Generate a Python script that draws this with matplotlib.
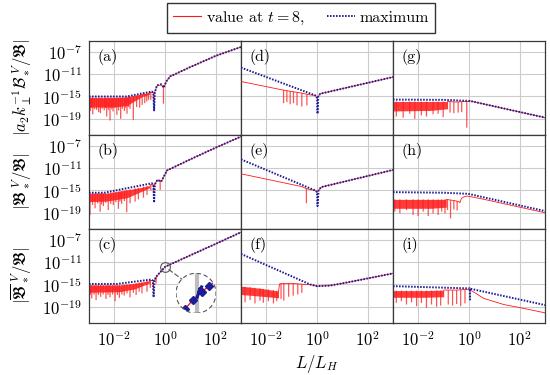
import numpy as np
import matplotlib
matplotlib.use('Agg')
import matplotlib.pyplot as plt
from matplotlib.patches import Circle, ConnectionPatch
from matplotlib.lines import Line2D

plt.rcParams['font.family'] = ['cmr10', 'DejaVu Serif']
plt.rcParams['mathtext.fontset'] = 'cm'
plt.rcParams['axes.formatter.use_mathtext'] = True

RED = '#ff1a1a'
BLUE = '#1c1c96'
DOTS = (0, (0.8, 0.75))

# ---------------- data (log10 of L/L_H and of the plotted quantity) ----------------
# (a)
a_blue_x = [-3, -1.5, -0.52, -0.46, -0.43, -0.40, -0.32, -0.15, -0.05, 0.05, 0.2, 1.0, 2.0, 3.0]
a_blue_y = [-15.0, -15.0, -14.1, -14.4, -17.5, -14.3, -13.0, -12.8, -13.4, -12.3, -11.4, -9.7, -7.7, -6.1]
a_red_x = [-0.62, -0.5, -0.42, -0.32, -0.15, -0.07, -0.05, 0.05, 0.2, 1.0, 2.0, 3.0]
a_red_y = [-14.3, -14.2, -14.4, -13.1, -12.9, -13.3, -13.4, -12.3, -11.4, -9.7, -7.7, -6.1]
a_band_x = [-3, -2.0, -1.5, -1.2, -0.9, -0.6]
a_band_top = [-15.2, -15.2, -15.1, -14.8, -14.5, -14.3]
a_band_bot = [-16.9, -16.9, -16.6, -15.8, -15.0, -14.6]
a_spk_x = [-2.95, -2.9, -2.85, -2.78, -2.7, -2.62, -2.55, -2.48, -2.4, -2.35, -2.3, -2.23, -2.17, -2.1,
           -2.05, -1.97, -1.9, -1.83, -1.75, -1.68, -1.6, -1.55, -1.5, -1.44, -1.38, -1.25, -1.12, -1.0,
           -0.9, -0.8, -0.72, -0.65, -0.56, -0.45, -0.06]
a_spk_top = [-15.2] * 22 + [-15.1, -15.05, -15.0, -14.9, -14.8, -14.7, -14.5, -14.5, -14.4, -14.3,
                            -14.25, -14.35, -13.35]
a_spk_low = [-17.6, -17.1, -18.2, -17.3, -17.4, -17.8, -18.0, -17.2, -17.5, -17.1,
             -18.6, -17.4, -19.3, -17.3, -17.7, -17.0, -18.3, -17.5, -19.0, -17.2,
             -17.6, -17.0, -18.1, -16.9, -17.2, -19.2, -16.9, -17.0, -16.5, -16.2,
             -15.9, -15.6, -15.6, -16.0, -16.3]

# (b)
b_blue_x = [-3, -2.4, -0.52, -0.46, -0.43, -0.40, -0.3, -0.15, 0.08, 1.0, 2.0, 3.0]
b_blue_y = [-15.4, -15.4, -13.7, -14.0, -17.2, -13.9, -13.1, -13.4, -11.4, -9.4, -7.3, -5.3]
b_red_x = [-0.6, -0.5, -0.42, -0.3, -0.2, -0.15, 0.08, 1.0, 2.0, 3.0]
b_red_y = [-14.0, -13.95, -14.0, -13.1, -13.2, -13.4, -11.4, -9.4, -7.3, -5.3]
b_band_x = [-3, -2.3, -1.5, -1.0, -0.6]
b_band_top = [-15.5, -15.5, -14.9, -14.5, -14.1]
b_band_bot = [-17.0, -16.9, -16.3, -15.3, -14.5]
b_spk_x = [-2.96, -2.86, -2.76, -2.66, -2.56, -2.5, -2.43, -2.34, -2.24, -2.14, -2.04, -1.94, -1.84,
           -1.78, -1.71, -1.6, -1.51, -1.38, -1.18, -1.05, -0.85, -0.71, -0.56, -0.45, -0.19]
b_spk_top = [-15.5] * 8 + [-15.4, -15.35, -15.3, -15.25, -15.2, -15.15, -15.1, -15.0, -14.9, -14.8,
                           -14.6, -14.5, -14.3, -14.2, -13.95, -14.0, -13.2]
b_spk_low = [-19.4, -17.6, -18.2, -17.3, -18.8, -17.5, -17.8, -17.2, -18.5, -17.4,
             -17.6, -17.1, -18.3, -17.0, -17.4, -16.9, -18.9, -17.3, -17.0, -16.6,
             -16.3, -15.8, -15.0, -15.5, -14.9]

# (c)
c_blue_x = [-3, -1.9, -0.54, -0.48, -0.45, -0.41, -0.35, 0.01, 1.0, 2.0, 3.0]
c_blue_y = [-14.9, -14.9, -14.1, -14.3, -17.3, -14.2, -13.6, -11.8, -9.75, -7.7, -5.6]
c_red_x = [-0.62, -0.5, -0.42, -0.36, -0.34, 0.01, 1.0, 2.0, 3.0]
c_red_y = [-14.3, -14.3, -14.3, -13.7, -13.6, -11.8, -9.75, -7.7, -5.6]
c_band_x = [-3, -1.8, -1.2, -0.6]
c_band_top = [-15.1, -15.1, -14.8, -14.3]
c_band_bot = [-16.4, -16.3, -15.8, -14.7]
c_spk_x = [-2.95, -2.89, -2.8, -2.72, -2.63, -2.54, -2.44, -2.33, -2.25, -2.17, -2.07, -1.97, -1.88,
           -1.80, -1.7, -1.61, -1.5, -1.38, -1.25, -1.14, -1.02, -0.91, -0.71, -0.58, -0.46, -0.35]
c_spk_top = [-15.1] * 14 + [-15.05, -15.0, -14.95, -14.9, -14.85, -14.75, -14.65, -14.6, -14.4, -14.3,
                            -14.3, -13.65]
c_spk_low = [-16.9, -17.5, -16.8, -17.8, -16.9, -17.2, -16.8, -17.6, -16.9, -17.3,
             -16.8, -18.0, -16.9, -17.4, -16.8, -17.0, -16.6, -17.3, -16.5, -16.9,
             -16.3, -16.6, -16.3, -15.6, -15.8, -14.8]

# (d)
d_blue_x = [-3, -0.07, -0.02, 0.0, 0.02, 0.05, 0.13, 3.0]
d_blue_y = [-9.8, -14.8, -15.0, -15.3, -18.1, -15.0, -14.5, -11.5]
d_red_x = [-3, -1.39, -1.0, -0.6, -0.3, -0.07, 0.0, 0.13, 3.0]
d_red_y = [-12.3, -13.8, -14.1, -14.4, -14.7, -14.8, -15.3, -14.5, -11.5]
d_spk_x = [-1.32, -1.19, -1.06, -0.93, -0.79, -0.6, -0.4]
d_spk_top = [-13.85, -13.95, -14.05, -14.15, -14.25, -14.4, -14.6]
d_spk_low = [-16.2, -16.0, -16.4, -16.2, -16.6, -16.8, -16.6]

# (e)
e_blue_x = [-3, -0.07, 0.0, 0.02, 0.06, 0.16, 3.0]
e_blue_y = [-9.4, -15.0, -15.3, -17.8, -15.0, -14.4, -11.3]
e_red_x = [-3, -0.6, -0.45, -0.39, -0.3, -0.07, 0.0, 0.06, 0.16, 3.0]
e_red_y = [-12.0, -14.3, -14.6, -14.7, -14.8, -15.0, -15.3, -15.0, -14.4, -11.3]
e_spk_x = [-0.42]
e_spk_top = [-14.65]
e_spk_low = [-17.3]

# (f)
f_blue_x = [-3, -0.27, 0.0, 0.5, 1.0, 1.84, 3.0]
f_blue_y = [-9.5, -15.0, -15.3, -15.2, -14.8, -14.05, -13.0]
f_red_x = [-1.52, -1.48, -1.3, -1.0, -0.7, -0.5, -0.27, 0.0, 0.5, 1.0, 1.84, 3.0]
f_red_y = [-16.3, -14.9, -14.8, -14.8, -14.9, -15.0, -15.0, -15.3, -15.2, -14.8, -14.05, -13.0]
f_band_x = [-3, -2.2, -1.52]
f_band_top = [-15.3, -15.7, -16.2]
f_band_bot = [-16.8, -17.1, -17.4]
f_spk_x = [-2.84, -2.64, -2.45, -2.25, -2.12, -1.92, -1.72, -1.59, -1.42, -1.31, -1.12, -0.94, -0.76, -0.6]
f_spk_top = [-15.4, -15.5, -15.6, -15.7, -15.8, -15.9, -16.0, -16.1, -14.85, -14.8, -14.8, -14.85, -14.9, -14.95]
f_spk_low = [-18.2, -17.8, -18.4, -17.9, -18.3, -18.0, -18.4, -18.0, -17.6, -17.9, -17.2, -17.0, -16.8, -16.5]

# (g)
g_blue_x = [-3, -1.0, 0.04, 3.0]
g_blue_y = [-15.56, -15.6, -15.8, -18.8]
g_red_x = [-0.85, -0.5, -0.2, 0.0, 0.04, 3.0]
g_red_y = [-15.9, -16.0, -15.9, -15.9, -15.8, -18.8]
g_band_x = [-3, -1.5, -0.85]
g_band_top = [-15.9, -15.9, -15.9]
g_band_bot = [-17.6, -17.5, -17.2]
g_spk_x = [-2.87, -2.6, -2.34, -2.14, -1.88, -1.68, -1.42, -1.22, -1.02, -0.75, -0.6, -0.43, -0.29, -0.09]
g_spk_top = [-15.9] * 9 + [-15.95, -16.0, -16.0, -15.95, -15.9]
g_spk_low = [-18.6, -18.8, -18.1, -19.0, -18.4, -18.6, -18.2, -18.1, -18.7, -17.9, -18.0, -17.9, -17.8, -20.6]

# (h)
h_blue_x = [-3, -1.0, -0.03, 3.0]
h_blue_y = [-15.3, -15.4, -15.6, -18.7]
h_red_x = [-0.9, -0.6, -0.4, -0.36, -0.3, -0.18, -0.07, 0.5, 1.5, 3.0]
h_red_y = [-16.6, -16.8, -17.0, -17.2, -16.4, -16.1, -16.0, -16.5, -17.5, -19.0]
h_band_x = [-3, -1.5, -0.9]
h_band_top = [-16.6, -16.6, -16.6]
h_band_bot = [-18.2, -18.2, -18.0]
h_spk_x = [-2.93, -2.73, -2.47, -2.21, -2.01, -1.81, -1.61, -1.42, -1.22, -1.08, -0.95, -0.85, -0.73, -0.6, -0.47]
h_spk_top = [-16.6] * 11 + [-16.65, -16.75, -16.8, -16.9]
h_spk_low = [-18.8, -19.1, -18.5, -19.4, -19.6, -18.8, -19.6, -19.1, -19.4, -18.8, -19.1, -18.5, -20.0, -18.4, -18.6]

# (i)
i_blue_x = [-3, 0.0, 0.03, 0.035, 0.04, 3.0]
i_blue_y = [-15.3, -15.7, -15.7, -17.7, -15.75, -18.7]
i_red_x = [-1.0, -0.5, -0.08, -0.03, 0.2, 0.58, 1.37, 2.16, 3.0]
i_red_y = [-16.0, -16.0, -15.9, -15.85, -16.4, -17.5, -18.6, -19.3, -20.1]
i_band_x = [-3, -1.8, -1.0]
i_band_top = [-16.1, -16.1, -16.0]
i_band_bot = [-17.3, -17.3, -17.2]
i_spk_x = [-2.87, -2.67, -2.47, -2.27, -2.07, -1.88, -1.68, -1.48, -1.28, -1.12, -0.82, -0.65, -0.49, -0.33, -0.16]
i_spk_top = [-16.1] * 10 + [-16.0, -16.0, -16.0, -15.95, -15.9]
i_spk_low = [-18.3, -18.0, -18.6, -18.2, -18.9, -18.3, -19.2, -18.6, -19.0, -18.8, -18.6, -18.8, -18.5, -18.9, -18.4]

# zoom inset of (c), in inset-axes units
ins_red_x = [0.05, 0.22, 0.42, 0.64, 0.83, 1.0]
ins_red_y = [-0.05, 0.1, 0.33, 0.54, 0.68, 0.82]
ins_dia_x = [0.225, 0.417, 0.642, 0.833]
ins_dia_y = [0.10, 0.333, 0.54, 0.683]
ins_zig_x = [0.53, 0.60, 0.57, 0.64]
ins_zig_y = [0.40, 0.62, 0.50, 0.66]

letters = ['(a)', '(b)', '(c)', '(d)', '(e)', '(f)', '(g)', '(h)', '(i)']
ylabels = [r'$|a_2 k_\perp^{-1}\mathcal{B}_*^{\ V}/\mathfrak{B}|$',
           r'$|\mathfrak{B}_*^{\ V}/\mathfrak{B}|$',
           r'$|\overline{\mathfrak{B}}_*^{\ V}/\mathfrak{B}|$']
xticks = [1e-2, 1e0, 1e2]
yticks = [1e-19, 1e-15, 1e-11, 1e-7]

panels = [
    (a_blue_x, a_blue_y, a_red_x, a_red_y, (a_band_x, a_band_top, a_band_bot), (a_spk_x, a_spk_top, a_spk_low)),
    (b_blue_x, b_blue_y, b_red_x, b_red_y, (b_band_x, b_band_top, b_band_bot), (b_spk_x, b_spk_top, b_spk_low)),
    (c_blue_x, c_blue_y, c_red_x, c_red_y, (c_band_x, c_band_top, c_band_bot), (c_spk_x, c_spk_top, c_spk_low)),
    (d_blue_x, d_blue_y, d_red_x, d_red_y, None, (d_spk_x, d_spk_top, d_spk_low)),
    (e_blue_x, e_blue_y, e_red_x, e_red_y, None, (e_spk_x, e_spk_top, e_spk_low)),
    (f_blue_x, f_blue_y, f_red_x, f_red_y, (f_band_x, f_band_top, f_band_bot), (f_spk_x, f_spk_top, f_spk_low)),
    (g_blue_x, g_blue_y, g_red_x, g_red_y, (g_band_x, g_band_top, g_band_bot), (g_spk_x, g_spk_top, g_spk_low)),
    (h_blue_x, h_blue_y, h_red_x, h_red_y, (h_band_x, h_band_top, h_band_bot), (h_spk_x, h_spk_top, h_spk_low)),
    (i_blue_x, i_blue_y, i_red_x, i_red_y, (i_band_x, i_band_top, i_band_bot), (i_spk_x, i_spk_top, i_spk_low)),
]


def p10(v):
    return 10.0 ** np.asarray(v, dtype=float)


fig, axes = plt.subplots(3, 3, figsize=(5.5, 3.75), dpi=100, sharex=True, sharey=True)
fig.subplots_adjust(left=0.1618, right=0.991, top=0.891, bottom=0.139, wspace=0, hspace=0)

for k, (bx, by, rx, ry, band, spk) in enumerate(panels):
    col, row = divmod(k, 3)
    ax = axes[row, col]
    ax.set_xscale('log')
    ax.set_yscale('log')
    if band is not None:
        ax.fill_between(p10(band[0]), p10(band[2]), p10(band[1]), color=RED, lw=0, alpha=0.85, zorder=2)
    # oscillation dips, one thin red stroke each
    for sx, st, sl in zip(spk[0], spk[1], spk[2]):
        ax.plot(p10([sx, sx]), p10([sl, st]), color=RED, alpha=0.75, lw=0.9,
                solid_capstyle='butt', snap=False, zorder=2)
    ax.plot(p10(rx), p10(ry), color=RED, lw=0.6, zorder=3)
    ax.plot(p10(bx), p10(by), color=BLUE, lw=1.4, ls=DOTS, zorder=4)
    ax.text(0.055, 0.83, letters[k], transform=ax.transAxes, fontsize=11.5, va='center', ha='left')
    ax.grid(True, which='major', color='#cccccc', lw=0.8)
    ax.set_axisbelow(True)
    for s in ax.spines.values():
        s.set_color('#3a3a3a')
        s.set_linewidth(0.9)

ax0 = axes[0, 0]
ax0.set_xlim(1e-3, 1e3)
ax0.set_ylim(10 ** -21.9, 1e-5)
ax0.set_xticks(xticks)
ax0.set_yticks(yticks)
for ax in axes.flat:
    ax.minorticks_off()
    ax.tick_params(length=0, labelsize=12, pad=5)

for row in range(3):
    axes[row, 0].set_ylabel(ylabels[row], fontsize=12, labelpad=6)
axes[2, 1].set_xlabel(r'$L/L_H$', fontsize=12, labelpad=3)

# zoom inset in (c)
ax_c = axes[2, 0]
ax_c.plot(1.0, 10 ** -11.8, 'o', ms=7, mfc='none', mec='#555555', mew=0.8, zorder=5)
ax_in = fig.add_axes([0.32, 0.1645, 0.0727, 0.1067])
ax_in.set_xlim(0, 1)
ax_in.set_ylim(0, 1)
ax_in.axis('off')
clip = Circle((0.5, 0.5), 0.5, transform=ax_in.transAxes, facecolor='white', edgecolor='none', zorder=0)
ax_in.add_patch(clip)
ring = Circle((0.5, 0.5), 0.5, transform=ax_in.transAxes, fill=False, edgecolor='#555555', lw=0.8,
              ls=(0, (4, 2.5)), zorder=6)
ax_in.add_patch(ring)
gl, = ax_in.plot([0.52, 0.52], [0.0, 1.0], color='#bdbdbd', lw=3, zorder=1)
rl, = ax_in.plot(ins_red_x, ins_red_y, color=RED, lw=1.0, zorder=2)
zl, = ax_in.plot(ins_zig_x, ins_zig_y, color=BLUE, lw=2.2, zorder=3)
dl, = ax_in.plot(ins_dia_x, ins_dia_y, 'D', ms=4.5, color=BLUE, ls='none', zorder=4)
for art in (gl, rl, zl, dl):
    art.set_clip_path(clip)
con = ConnectionPatch(xyA=(1.0, 10 ** -11.8), coordsA=ax_c.transData,
                      xyB=(0.146, 0.854), coordsB=ax_in.transAxes,
                      ls=(0, (4, 2.5)), color='#555555', lw=0.8, shrinkA=3.5, shrinkB=0)
fig.add_artist(con)

handles = [Line2D([], [], color=RED, lw=0.8),
           Line2D([], [], color=BLUE, lw=1.4, ls=DOTS)]
fig.legend(handles, [r'value at $t=8$,', 'maximum'], loc='center',
           bbox_to_anchor=(0.547, 0.952), ncol=2, fontsize=11.5, frameon=True,
           fancybox=False, edgecolor='#333333', framealpha=1, handlelength=1.75,
           handletextpad=0.3, columnspacing=1.4, borderpad=0.4)

plt.savefig('out.png', dpi=100)
